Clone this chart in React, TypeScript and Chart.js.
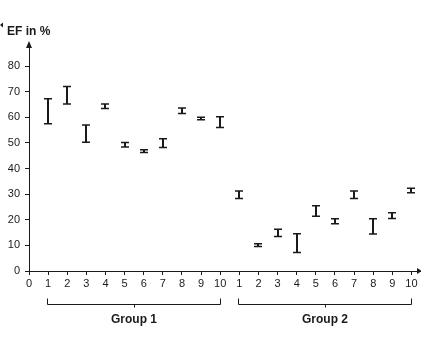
import React, { useEffect, useRef } from "react";
import { Chart, registerables } from "chart.js";

Chart.register(...registerables);

// Positions along the x axis (0 = origin, 1..10 = Group 1, 11..20 = Group 2)
const positions = [1, 2, 3, 4, 5, 6, 7, 8, 9, 10, 11, 12, 13, 14, 15, 16, 17, 18, 19, 20];
const tickValues = [0, 1, 2, 3, 4, 5, 6, 7, 8, 9, 10, 11, 12, 13, 14, 15, 16, 17, 18, 19, 20];
const tickLabels = ["0", "1", "2", "3", "4", "5", "6", "7", "8", "9", "10", "1", "2", "3", "4", "5", "6", "7", "8", "9", "10"];
const yTicks = [0, 10, 20, 30, 40, 50, 60, 70, 80];

// EF range per patient (lower and upper end of each bar), in %
const efLow = [57.5, 65.2, 50.3, 63.4, 48.4, 46.3, 48.2, 61.5, 59.0, 56.0, 28.3, 9.6, 13.5, 7.2, 21.4, 18.4, 28.3, 14.4, 20.5, 30.5];
const efHigh = [67.2, 72.0, 57.0, 65.2, 50.2, 47.3, 51.6, 63.6, 60.0, 60.2, 31.2, 10.6, 16.3, 14.5, 25.5, 20.4, 31.2, 20.4, 22.7, 32.3];

const groupNames = ["Group 1", "Group 2"];
const groupFrom = [1, 11];
const groupTo = [10, 20];

const INK = "#1a1a1a";
const FONT = "'Liberation Sans', Arial, sans-serif";

const decorations = {
  id: "efDecorations",
  afterDatasetsDraw(chart: any) {
    const { ctx, chartArea } = chart;
    const xs = chart.scales.x;
    const ys = chart.scales.y;
    ctx.save();
    ctx.strokeStyle = INK;
    ctx.fillStyle = INK;

    // I-beam range bars
    const cap = 4;
    for (let i = 0; i < positions.length; i++) {
      const x = Math.round(xs.getPixelForValue(positions[i]));
      const yTop = ys.getPixelForValue(efHigh[i]);
      const yBot = ys.getPixelForValue(efLow[i]);
      ctx.lineWidth = 2;
      ctx.beginPath();
      ctx.moveTo(x, yTop);
      ctx.lineTo(x, yBot);
      ctx.stroke();
      ctx.lineWidth = 1.5;
      ctx.beginPath();
      ctx.moveTo(x - cap, yTop);
      ctx.lineTo(x + cap, yTop);
      ctx.moveTo(x - cap, yBot);
      ctx.lineTo(x + cap, yBot);
      ctx.stroke();
    }

    // axis arrowheads
    const x0 = xs.getPixelForValue(0);
    const yTopAxis = chartArea.top;
    ctx.beginPath();
    ctx.moveTo(x0, yTopAxis - 2);
    ctx.lineTo(x0 - 3, yTopAxis + 5);
    ctx.lineTo(x0 + 3, yTopAxis + 5);
    ctx.closePath();
    ctx.fill();

    const yAxis = chartArea.bottom;
    ctx.beginPath();
    ctx.moveTo(chartArea.right + 1, yAxis);
    ctx.lineTo(chartArea.right - 4, yAxis - 3);
    ctx.lineTo(chartArea.right - 4, yAxis + 3);
    ctx.closePath();
    ctx.fill();

    // small arrow marker at the left of the axis title
    ctx.beginPath();
    ctx.moveTo(0, 25);
    ctx.lineTo(3, 22.5);
    ctx.lineTo(3, 27.5);
    ctx.closePath();
    ctx.fill();

    // y axis title
    ctx.font = `bold 12px ${FONT}`;
    ctx.textAlign = "left";
    ctx.textBaseline = "middle";
    ctx.fillText("EF in %", 7, 32);

    // group brackets
    ctx.lineWidth = 1;
    const bTop = yAxis + 27.5;
    const bBot = yAxis + 33.5;
    for (let g = 0; g < groupNames.length; g++) {
      const a = Math.round(xs.getPixelForValue(groupFrom[g]) - 1.5) + 0.5;
      const b = Math.round(xs.getPixelForValue(groupTo[g])) + 0.5;
      const mid = Math.round((a + b) / 2) + 0.5;
      ctx.beginPath();
      ctx.moveTo(a, bTop);
      ctx.lineTo(a, bBot);
      ctx.lineTo(b, bBot);
      ctx.lineTo(b, bTop);
      ctx.moveTo(mid, bBot);
      ctx.lineTo(mid, bBot + 3);
      ctx.stroke();
      ctx.font = `bold 12px ${FONT}`;
      ctx.textAlign = "center";
      ctx.textBaseline = "middle";
      ctx.fillText(groupNames[g], (a + b) / 2, yAxis + 49);
    }
    ctx.restore();
  },
};

export default function App() {
  const canvasRef = useRef<HTMLCanvasElement | null>(null);

  useEffect(() => {
    const canvas = canvasRef.current;
    if (!canvas) return;
    const chart = new Chart(canvas, {
      type: "scatter",
      data: {
        datasets: [
          {
            data: positions.map((p, i) => ({ x: p, y: (efLow[i] + efHigh[i]) / 2 })),
            pointRadius: 0,
            pointHoverRadius: 0,
          },
        ],
      },
      options: {
        responsive: false,
        animation: false,
        events: [],
        layout: { padding: { top: 43, right: 0, left: 0, bottom: 0 } },
        plugins: { legend: { display: false }, tooltip: { enabled: false } },
        scales: {
          x: {
            type: "linear",
            min: 0,
            max: 20.5,
            afterBuildTicks: (scale: any) => {
              scale.ticks = tickValues.map((v) => ({ value: v }));
            },
            afterFit: (scale: any) => {
              scale.height = 67;
            },
            grid: { drawOnChartArea: false, tickLength: 4, color: INK },
            border: { color: INK, width: 1 },
            ticks: {
              autoSkip: false,
              maxRotation: 0,
              padding: 2,
              color: INK,
              font: { family: FONT, size: 11 },
              callback: (_v: any, i: number) => tickLabels[i],
            },
          },
          y: {
            type: "linear",
            min: 0,
            max: 89,
            afterBuildTicks: (scale: any) => {
              scale.ticks = yTicks.map((v) => ({ value: v }));
            },
            afterFit: (scale: any) => {
              scale.width = 29;
            },
            grid: { drawOnChartArea: false, tickLength: 4, color: INK },
            border: { color: INK, width: 1 },
            ticks: {
              padding: 5,
              color: INK,
              font: { family: FONT, size: 11 },
              callback: (v: any) => String(v),
            },
          },
        },
      },
      plugins: [decorations],
    });
    return () => chart.destroy();
  }, []);

  return (
    <div style={{ position: "absolute", left: 0, top: 0, width: 421, height: 338, background: "#fff" }}>
      <canvas ref={canvasRef} width={421} height={338} style={{ display: "block" }} />
    </div>
  );
}
